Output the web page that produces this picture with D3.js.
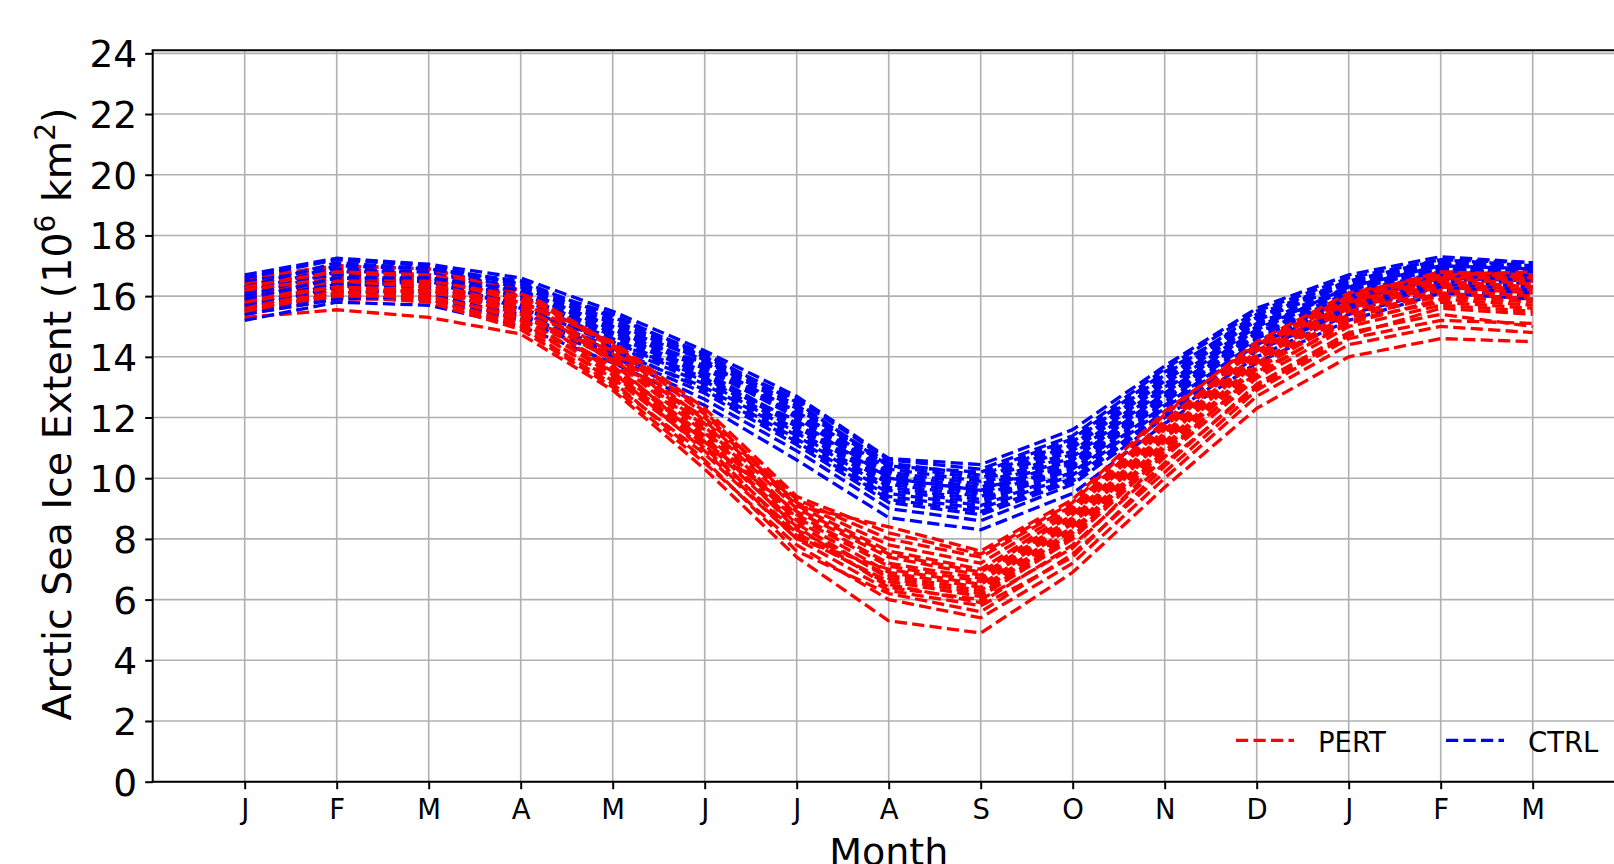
<!DOCTYPE html>
<html>
<head>
<meta charset="utf-8">
<script src="https://cdn.jsdelivr.net/npm/d3@7"></script>
<style>
  html, body { margin: 0; padding: 0; background: #fff; }
  svg { display: block; font-family: "DejaVu Sans", sans-serif; }
</style>
</head>
<body>
<svg id="chart" width="1614" height="864"></svg>
<script>
// ---- Data ----
const monthLabels = ["J","F","M","A","M","J","J","A","S","O","N","D","J","F","M"];
const yTicks = [0,2,4,6,8,10,12,14,16,18,20,22,24];
const seriesNames = ["PERT", "CTRL"];
const seriesColors = ["#ff0000", "#0000ff"];

const pert = [
  [15.3,15.55,15.3,14.75,12.9,10.3,7.4,5.3,4.9,6.9,9.7,12.3,14.0,14.6,14.5],
  [15.6,16.0,15.8,14.9,13.0,10.5,7.8,6.0,5.4,7.2,10.0,12.7,14.4,15.0,14.8],
  [15.9,16.3,16.1,15.2,13.2,10.6,7.6,6.2,5.6,7.5,10.2,12.9,14.6,15.2,15.1],
  [16.2,16.6,16.5,15.6,13.5,10.9,8.0,6.3,5.8,7.4,10.4,13.1,14.8,15.4,15.0],
  [15.4,15.9,15.9,15.1,13.3,11.0,8.2,6.5,5.9,7.8,10.5,13.0,14.7,15.6,15.4],
  [16.5,16.9,16.7,15.9,13.8,11.2,8.4,6.4,6.0,7.7,10.7,13.3,15.0,15.7,15.5],
  [15.8,16.2,16.0,15.3,13.4,11.1,8.1,6.6,6.1,8.0,10.8,13.5,15.1,15.9,15.7],
  [16.0,16.4,16.3,15.5,13.6,11.3,8.5,6.7,6.2,8.1,10.9,13.4,15.2,15.8,15.6],
  [15.5,16.1,16.2,15.4,13.7,11.4,8.3,6.8,6.3,8.2,11.0,13.6,15.3,16.0,15.8],
  [16.3,16.7,16.6,15.8,13.9,11.5,8.6,6.9,6.4,8.3,11.1,13.7,15.4,16.1,15.9],
  [15.7,16.1,15.9,15.0,13.1,10.8,8.0,7.0,6.5,8.4,11.2,13.8,15.5,16.2,16.0],
  [16.1,16.5,16.4,15.7,14.0,11.6,8.7,7.1,6.6,8.5,11.3,13.9,15.6,16.3,16.1],
  [16.4,16.8,16.6,15.9,14.1,11.7,8.8,7.2,6.7,8.6,11.4,14.0,15.7,16.4,16.2],
  [15.6,16.0,16.0,15.3,13.5,11.2,8.9,7.4,6.8,8.7,11.5,14.1,15.8,16.5,16.3],
  [16.0,16.5,16.3,15.6,14.2,11.8,9.0,7.5,6.9,8.8,11.6,14.2,15.8,16.6,16.4],
  [16.6,17.0,16.9,16.1,14.3,11.9,9.1,7.6,7.0,8.9,11.7,14.3,15.9,16.7,16.5],
  [15.9,16.3,16.2,15.5,13.9,12.0,9.2,7.8,7.2,9.0,11.8,14.4,16.0,16.6,16.6],
  [16.2,16.6,16.5,16.0,14.4,12.1,9.3,8.0,7.4,9.1,11.9,14.3,15.9,16.8,16.7],
  [15.8,16.3,16.1,15.8,14.5,12.3,9.4,8.2,7.5,9.2,12.1,14.5,16.1,16.7,16.8],
  [16.3,16.8,16.7,16.2,14.4,12.2,9.1,8.4,7.6,9.3,12.2,14.4,16.0,16.8,16.6]
];

const ctrl = [
  [15.2,15.8,15.7,15.0,13.8,12.4,10.6,8.7,8.3,9.5,11.8,13.8,15.2,16.1,15.9],
  [15.5,16.0,15.9,15.2,14.0,12.6,10.9,9.0,8.6,9.8,12.0,14.0,15.4,16.2,16.0],
  [15.8,16.2,16.1,15.3,14.1,12.8,11.1,9.2,8.8,9.9,12.1,14.2,15.5,16.3,16.1],
  [16.1,16.5,16.4,15.5,14.3,12.9,11.2,9.3,8.9,10.0,12.2,14.3,15.6,16.4,16.2],
  [15.4,15.9,16.0,15.4,14.2,13.0,11.3,9.4,9.0,10.1,12.3,14.4,15.7,16.5,16.3],
  [16.4,16.8,16.6,15.7,14.4,13.1,11.4,9.5,9.1,10.2,12.4,14.5,15.8,16.6,16.4],
  [15.7,16.1,16.2,15.6,14.5,13.2,11.5,9.6,9.2,10.3,12.5,14.6,15.9,16.6,16.5],
  [16.0,16.4,16.3,15.8,14.6,13.3,11.6,9.7,9.3,10.4,12.6,14.7,16.0,16.7,16.5],
  [15.6,16.3,16.5,15.9,14.7,13.4,11.7,9.8,9.4,10.5,12.7,14.8,16.0,16.8,16.6],
  [16.3,16.7,16.7,16.0,14.8,13.5,11.8,9.9,9.5,10.6,12.8,14.9,16.1,16.8,16.7],
  [15.9,16.6,16.5,15.6,14.5,13.3,11.9,10.0,9.6,10.7,12.9,15.0,16.2,16.9,16.7],
  [16.2,16.9,16.8,16.1,14.9,13.6,12.0,10.1,9.7,10.8,13.0,15.0,16.2,16.9,16.8],
  [16.5,17.0,16.9,16.2,15.0,13.7,12.1,10.2,9.8,10.9,13.1,15.1,16.3,17.0,16.8],
  [15.7,16.4,16.6,16.0,14.8,13.8,12.2,10.3,9.9,11.0,13.2,15.2,16.4,17.0,16.9],
  [16.0,16.8,16.8,16.3,15.1,13.9,12.3,10.4,10.0,11.1,13.3,15.3,16.4,17.1,16.9],
  [16.6,17.2,17.0,16.4,15.2,14.0,12.4,10.5,10.1,11.2,13.4,15.4,16.5,17.1,17.0],
  [16.1,17.0,16.9,16.5,15.3,14.1,12.5,10.4,10.2,11.3,13.5,15.3,16.5,17.2,17.0],
  [16.3,17.1,16.9,16.4,15.4,14.0,12.6,10.6,10.3,11.4,13.6,15.5,16.6,17.2,17.1],
  [16.7,17.25,17.05,16.6,15.5,14.2,12.7,10.65,10.45,11.6,13.7,15.6,16.7,17.3,17.1],
  [15.9,16.6,16.6,16.2,15.0,13.9,12.0,10.0,9.6,10.6,12.8,14.9,16.3,17.0,16.9]
];

// ---- Layout ----
const svg = d3.select("#chart");
const plotLeft = 152.7, plotRight = 1624.7, plotTop = 50.3, plotBottom = 781.7;
const x = d3.scaleLinear().domain([0, 16]).range([plotLeft, plotRight]);
const y = d3.scaleLinear().domain([0, 24.1]).range([plotBottom, plotTop]);
const monthIdx = monthLabels.map((d, i) => i + 1);

const gridColor = "#b0b0b0";

// grid
const g = svg.append("g");
g.selectAll("line.vgrid").data(monthIdx).enter().append("line")
  .attr("x1", d => x(d)).attr("x2", d => x(d))
  .attr("y1", plotTop).attr("y2", plotBottom)
  .attr("stroke", gridColor).attr("stroke-width", 1.6);
g.selectAll("line.hgrid").data(yTicks).enter().append("line")
  .attr("x1", plotLeft).attr("x2", plotRight)
  .attr("y1", d => y(d)).attr("y2", d => y(d))
  .attr("stroke", gridColor).attr("stroke-width", 1.6);

// lines
const line = d3.line().x((d, i) => x(i + 1)).y(d => y(d));
const linesG = svg.append("g").attr("fill", "none")
  .attr("stroke-width", 3.3).attr("stroke-dasharray", "12.2,5.3");
for (let i = 0; i < pert.length; i++) {
  linesG.append("path").attr("d", line(pert[i])).attr("stroke", seriesColors[0]);
  linesG.append("path").attr("d", line(ctrl[i])).attr("stroke", seriesColors[1]);
}

// axes
const yAxis = d3.axisLeft(y).tickValues(yTicks).tickSize(7.5).tickPadding(8).tickFormat(d3.format("d"));
const yg = svg.append("g").attr("transform", `translate(${plotLeft},0)`).call(yAxis);
yg.select(".domain").remove();
yg.selectAll(".tick line").attr("stroke", "#000").attr("stroke-width", 2);
yg.selectAll(".tick text").attr("font-size", 37.5).attr("fill", "#000")
  .attr("font-family", "DejaVu Sans").attr("dy", "0.36em");

const xAxis = d3.axisBottom(x).tickValues(monthIdx).tickSize(7.5).tickPadding(10)
  .tickFormat((d, i) => monthLabels[i]);
const xg = svg.append("g").attr("transform", `translate(0,${plotBottom})`).call(xAxis);
xg.select(".domain").remove();
xg.selectAll(".tick line").attr("stroke", "#000").attr("stroke-width", 2);
xg.selectAll(".tick text").attr("font-size", 27.5).attr("fill", "#000")
  .attr("font-family", "DejaVu Sans").attr("dy", "0.72em");

// spines
svg.append("line").attr("x1", plotLeft).attr("x2", plotLeft).attr("y1", plotTop).attr("y2", plotBottom)
  .attr("stroke", "#000").attr("stroke-width", 2);
svg.append("line").attr("x1", plotLeft - 1).attr("x2", plotRight).attr("y1", plotBottom).attr("y2", plotBottom)
  .attr("stroke", "#000").attr("stroke-width", 2);
svg.append("line").attr("x1", plotLeft - 1).attr("x2", plotRight).attr("y1", plotTop).attr("y2", plotTop)
  .attr("stroke", "#000").attr("stroke-width", 2);

// axis labels
svg.append("text").attr("x", (plotLeft + plotRight) / 2).attr("y", 865)
  .attr("text-anchor", "middle").attr("font-size", 38).attr("fill", "#000").text("Month");

const yl = svg.append("text")
  .attr("transform", `translate(71,${(plotTop + plotBottom) / 2 - 2}) rotate(-90)`)
  .attr("text-anchor", "middle").attr("font-size", 39.5).attr("fill", "#000");
yl.append("tspan").text("Arctic Sea Ice Extent (10");
yl.append("tspan").attr("font-size", 28).attr("dy", -16).text("6");
yl.append("tspan").attr("dy", 16).text(" km");
yl.append("tspan").attr("font-size", 28).attr("dy", -16).text("2");
yl.append("tspan").attr("dy", 16).text(")");

// legend
const legendX = [1236, 1446];
const legendY = 740.3;
const lg = svg.append("g");
seriesNames.forEach((name, i) => {
  lg.append("line").attr("x1", legendX[i]).attr("x2", legendX[i] + 58)
    .attr("y1", legendY).attr("y2", legendY)
    .attr("stroke", seriesColors[i]).attr("stroke-width", 3.3).attr("stroke-dasharray", "12.2,5.3");
  lg.append("text").attr("x", legendX[i] + 82).attr("y", legendY + 11.5)
    .attr("font-size", 27.5).attr("fill", "#000").text(name);
});
</script>
</body>
</html>
